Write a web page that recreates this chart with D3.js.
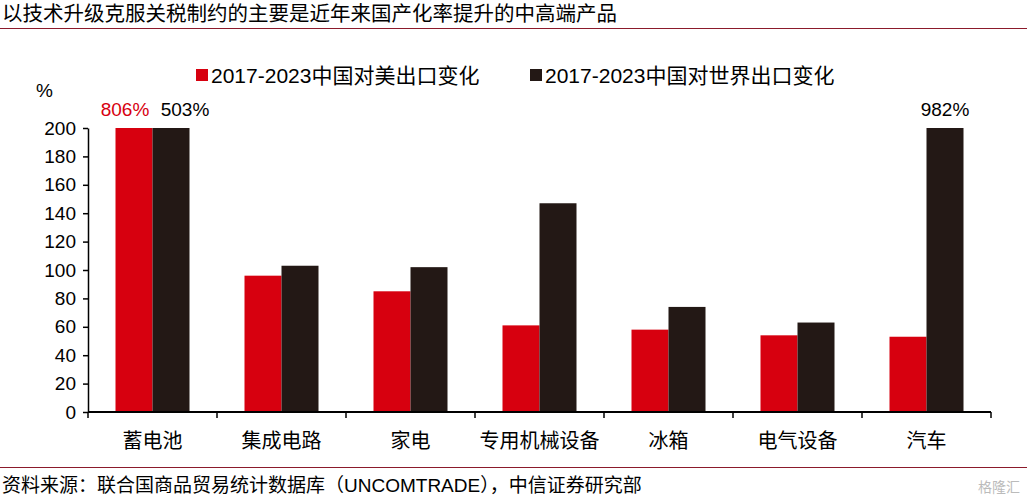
<!DOCTYPE html><html><head><meta charset="utf-8">
<script src="https://cdn.jsdelivr.net/npm/d3@7"></script>
<style>body{margin:0;background:#fff}text{font-family:Arial,"Liberation Sans","Noto Sans CJK SC",sans-serif}</style></head><body>
<svg id="c" width="1027" height="503"></svg>
<script>
const categories=["蓄电池","集成电路","家电","专用机械设备","冰箱","电气设备","汽车"];
const usValues=[806,96,85,61,58,54,53];
const worldValues=[503,103,102,147,74,63,982];
const yTicks=[0,20,40,60,80,100,120,140,160,180,200];
const seriesNames=["2017-2023中国对美出口变化","2017-2023中国对世界出口变化"];
const colors=["#d7000f","#231815"];
const cjk='"Noto Sans CJK SC",sans-serif';
const svg=d3.select("#c");
svg.append("text").attr("x",2).attr("y",21).attr("font-size",20.5).attr("font-family",cjk).text("以技术升级克服关税制约的主要是近年来国产化率提升的中高端产品");
svg.append("line").attr("x1",0).attr("x2",1027).attr("y1",28.5).attr("y2",28.5).attr("stroke","#8b1a2b").attr("stroke-width",1);
svg.append("line").attr("x1",0).attr("x2",1027).attr("y1",467.5).attr("y2",467.5).attr("stroke","#8b1a2b").attr("stroke-width",1);
svg.append("text").attr("x",2).attr("y",492).attr("font-size",19).attr("font-family",cjk).text("资料来源：联合国商品贸易统计数据库（UNCOMTRADE），中信证券研究部");
svg.append("text").attr("x",1020).attr("y",492).attr("text-anchor","end").attr("font-size",14).attr("fill","#bbb").attr("font-family",cjk).text("格隆汇");
const x=d3.scaleBand().domain(categories).range([88,991]);
const y=d3.scaleLinear().domain([0,200]).range([412,128]);
const bw=37;
const g=svg.append("g");
[usValues,worldValues].forEach((vals,si)=>{
  g.selectAll(null).data(categories).enter().append("rect")
   .attr("x",d=>x(d)+x.bandwidth()/2-bw+si*bw).attr("width",bw)
   .attr("y",(d,i)=>y(Math.min(vals[i],200))).attr("height",(d,i)=>412-y(Math.min(vals[i],200)))
   .attr("fill",colors[si]);
  g.selectAll(null).data(categories.filter((d,i)=>vals[i]>200)).enter().append("text")
   .attr("x",d=>x(d)+x.bandwidth()/2-bw/2+si*bw+(si===0&&categories.indexOf(d)===0?-9:(categories.indexOf(d)===0?14:0)))
   .attr("y",116).attr("text-anchor","middle").attr("font-size",19).attr("fill",si===0?colors[0]:"#000")
   .text(d=>vals[categories.indexOf(d)]+"%");
});
const ya=svg.append("g").attr("transform","translate(88,0)").call(d3.axisLeft(y).tickValues(yTicks).tickSize(5).tickSizeOuter(0));
ya.selectAll("text").attr("font-size",19).attr("fill","#000").attr("dx","-4");
ya.selectAll("line,path").attr("stroke","#000").attr("stroke-width",1.5);
const xa=svg.append("g").attr("transform","translate(0,412)");
xa.append("line").attr("x1",88).attr("x2",991).attr("stroke","#000").attr("stroke-width",2);
xa.selectAll(null).data(d3.range(categories.length+1)).enter().append("line")
 .attr("x1",i=>88+i*x.step()).attr("x2",i=>88+i*x.step()).attr("y1",0).attr("y2",6).attr("stroke","#000").attr("stroke-width",1.5);
xa.selectAll(null).data(categories).enter().append("text").attr("x",d=>x(d)+x.bandwidth()/2).attr("y",36)
 .attr("text-anchor","middle").attr("font-size",20).attr("font-family",cjk).text(d=>d);
svg.append("text").attr("x",36).attr("y",97).attr("font-size",19).text("%");
const lg=svg.append("g");
[[196,seriesNames[0]],[530,seriesNames[1]]].forEach(([lx,t],i)=>{
  lg.append("rect").attr("x",lx).attr("y",69).attr("width",12).attr("height",12).attr("fill",colors[i]);
  lg.append("text").attr("x",lx+15).attr("y",83).attr("font-size",21).attr("font-family",'Arial,"Noto Sans CJK SC",sans-serif').text(t);
});
</script></body></html>
